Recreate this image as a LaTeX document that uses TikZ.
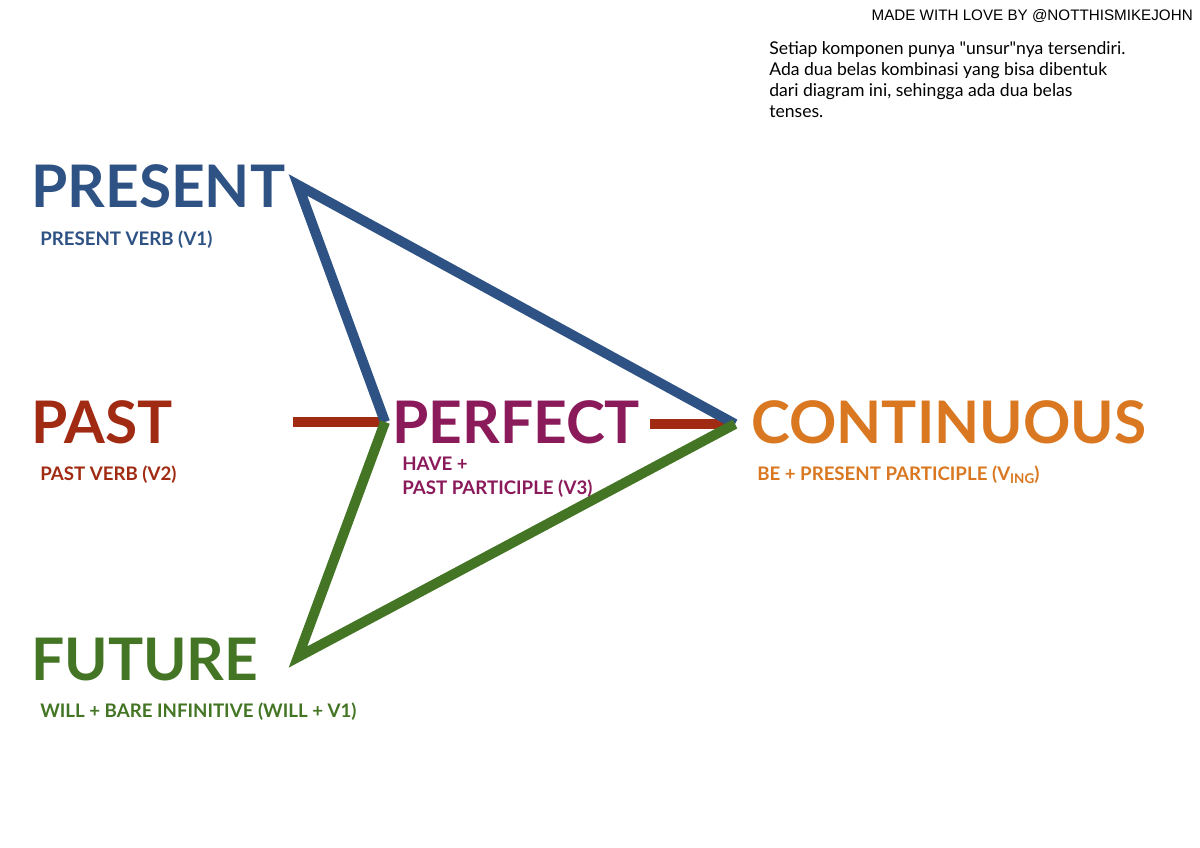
\documentclass[tikz,border=0pt]{standalone}
\usepackage{fontspec}
\setmainfont{Lato}
\newfontfamily\helv{Liberation Sans}
\definecolor{cblue}{HTML}{2E5283}
\definecolor{cred}{HTML}{A02A12}
\definecolor{cpurple}{HTML}{8B1A5A}
\definecolor{corange}{HTML}{D97821}
\definecolor{cgreen}{HTML}{437524}
\tikzset{
  big/.style={anchor=base west, inner sep=0pt, font=\fontsize{44}{44}\selectfont\bfseries},
  sub/.style={anchor=base west, inner sep=0pt, font=\fontsize{14}{18}\selectfont\bfseries, align=left},
  conn/.style={line width=7.5pt, line join=miter},
}
\begin{document}
\begin{tikzpicture}[x=0.75pt,y=-0.75pt]
\useasboundingbox[fill=white] (0,0) rectangle (1200,848);
% vertices
\coordinate (pA) at (298,185);
\coordinate (pB) at (385,422);
\coordinate (pC) at (735,424);
\coordinate (pD) at (298,657);
\coordinate (rL) at (293,422);
\coordinate (rM) at (650,424);
% connectors
\draw[conn, cred] (rL) -- (pB);
\draw[conn, cred] (rM) -- (pC);
\draw[conn, cblue] (pB) -- (pA) -- (pC);
\draw[conn, cgreen] (pB) -- (pD) -- (pC);
% main labels
\node[big, text=cblue] (present) at (31,208) {PRESENT};
\node[sub, text=cblue] (presentsub) at (40,246) {PRESENT VERB (V1)};
\node[big, text=cred] (past) at (31,444) {PAST};
\node[sub, text=cred] (pastsub) at (40,481) {PAST VERB (V2)};
\node[big, text=cpurple] (perfect) at (392,444) {PERFECT};
\node[sub, text=cpurple] (perfectsub) at (402,494) {HAVE +\\PAST PARTICIPLE (V3)};
\node[big, text=corange] (cont) at (751,444) {CONTINUOUS};
\node[sub, text=corange] (contsub) at (757,481) {BE + PRESENT PARTICIPLE (V\raisebox{-0.3ex}{\scalebox{0.72}{ING}})};
\node[big, text=cgreen] (future) at (31,680) {FUTURE};
\node[sub, text=cgreen] (futuresub) at (40,717) {WILL + BARE INFINITIVE (WILL + V1)};
% credits
\node[anchor=base east, inner sep=0pt, font=\helv\fontsize{11.4}{14}\selectfont] (credit) at (1193,21) {MADE WITH LOVE BY @NOTTHISMIKEJOHN};
\node[anchor=base west, inner sep=0pt, font=\fontsize{13.2}{15.8}\selectfont, align=left] (note) at (769,118)
  {Setiap komponen punya \textquotedbl unsur\textquotedbl nya tersendiri.\\Ada dua belas kombinasi yang bisa dibentuk\\dari diagram ini, sehingga ada dua belas\\tenses.};
\end{tikzpicture}
\end{document}
